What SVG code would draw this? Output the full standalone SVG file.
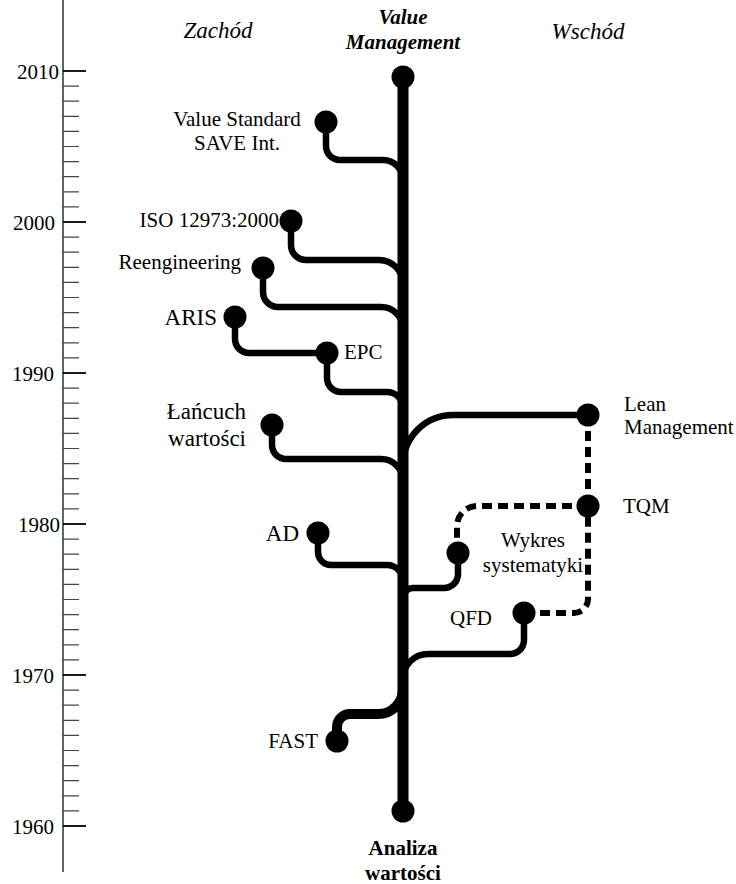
<svg xmlns="http://www.w3.org/2000/svg" width="736" height="884" viewBox="0 0 736 884">
<style>
text{font-family:"Liberation Serif","Times New Roman",serif;fill:#000;font-size:21px}
.yr{font-size:21px}
.big{font-size:23px}
.hdr{font-size:23px;font-style:italic}
.bi{font-weight:bold;font-style:italic;font-size:21px}
.b{font-weight:bold;font-size:21px}
.mid{text-anchor:middle}
.end{text-anchor:end}
.br{fill:none;stroke:#000;stroke-width:6.5;stroke-linecap:round}
.thick{fill:none;stroke:#000;stroke-width:10}
.dash{fill:none;stroke:#000;stroke-width:6;stroke-dasharray:10 6}
.minor{stroke:#444;stroke-width:1.2}
.major{stroke:#000;stroke-width:1.8}
</style>
<g id="axis">
<line x1="63" y1="0" x2="63" y2="872" stroke="#1f3a2c" stroke-width="1.5"/>
<g id="ticks">
<line class="major" x1="63" y1="71" x2="86" y2="71"/>
<line class="major" x1="63" y1="222" x2="86" y2="222"/>
<line class="major" x1="63" y1="373" x2="86" y2="373"/>
<line class="major" x1="63" y1="524" x2="86" y2="524"/>
<line class="major" x1="63" y1="675" x2="86" y2="675"/>
<line class="major" x1="63" y1="826" x2="86" y2="826"/>
<path class="minor" d="M63 86.1H79M63 101.2H79M63 116.3H79M63 131.4H79M63 146.5H79M63 161.6H79M63 176.7H79M63 191.8H79M63 206.9H79
M63 237.1H79M63 252.2H79M63 267.3H79M63 282.4H79M63 297.5H79M63 312.6H79M63 327.7H79M63 342.8H79M63 357.9H79
M63 388.1H79M63 403.2H79M63 418.3H79M63 433.4H79M63 448.5H79M63 463.6H79M63 478.7H79M63 493.8H79M63 508.9H79
M63 539.1H79M63 554.2H79M63 569.3H79M63 584.4H79M63 599.5H79M63 614.6H79M63 629.7H79M63 644.8H79M63 659.9H79
M63 690.1H79M63 705.2H79M63 720.3H79M63 735.4H79M63 750.5H79M63 765.6H79M63 780.7H79M63 795.8H79M63 810.9H79"/>
</g>
<text class="yr" x="17" y="79">2010</text>
<text class="yr" x="13" y="230">2000</text>
<text class="yr" x="12" y="381">1990</text>
<text class="yr" x="18" y="532">1980</text>
<text class="yr" x="12" y="683">1970</text>
<text class="yr" x="12" y="834">1960</text>
</g>
<g id="headers">
<text class="hdr mid" x="218" y="38">Zachód</text>
<text class="hdr mid" x="588" y="39">Wschód</text>
<text class="bi mid" x="403" y="24">Value</text>
<text class="bi mid" x="403" y="49">Management</text>
</g>
<g id="connectors">
<line x1="403" y1="77" x2="403" y2="811" stroke="#000" stroke-width="11"/>
<path class="br" d="M326 122V146A14 14 0 0 0 340 160H383A20 20 0 0 1 403 180"/>
<path class="br" d="M291 221V245A15 15 0 0 0 306 260H379A24 24 0 0 1 403 284"/>
<path class="br" d="M263 268V292A15 15 0 0 0 278 307H381A22 22 0 0 1 403 329"/>
<path class="br" d="M235 317V339A14 14 0 0 0 249 353H327"/>
<path class="br" d="M327 353V378A14 14 0 0 0 341 392H387A16 16 0 0 1 403 408"/>
<path class="br" d="M272 425V445A14 14 0 0 0 286 459H381A22 22 0 0 1 403 481"/>
<path class="br" d="M318 533V552A13 13 0 0 0 331 565H387A16 16 0 0 1 403 581"/>
<path class="br" d="M588 415H453A50 50 0 0 0 403 465"/>
<path class="br" d="M458 553V574A14 14 0 0 1 444 588H413A10 10 0 0 0 403 598"/>
<path class="br" d="M524 613V640A14 14 0 0 1 510 654H428A25 25 0 0 0 403 679"/>
<path class="thick" d="M337 741V727A13 13 0 0 1 350 714H378A25 25 0 0 0 403 689"/>
<path class="dash" d="M588 415V506"/>
<path class="dash" d="M588 506H477A20 20 0 0 0 457 526V553"/>
<path class="dash" d="M524 613H574A14 14 0 0 0 588 599V506"/>
</g>
<g id="n-vm"><circle cx="403" cy="77" r="11.5"/></g>
<g id="n-av"><circle cx="403" cy="811" r="11.5"/><text class="b mid" x="403" y="855">Analiza</text><text class="b mid" x="403" y="880">wartości</text></g>
<g id="n-vs"><circle cx="326" cy="122" r="11.5"/><text class="mid" x="237" y="126">Value Standard</text><text class="mid" x="237" y="150">SAVE Int.</text></g>
<g id="n-iso"><circle cx="291" cy="221" r="11.5"/><text class="end" x="279" y="227">ISO 12973:2000</text></g>
<g id="n-re"><circle cx="263" cy="268" r="11.5"/><text class="end" x="241" y="269">Reengineering</text></g>
<g id="n-aris"><circle cx="235" cy="317" r="11.5"/><text class="big end" x="217" y="325">ARIS</text></g>
<g id="n-epc"><circle cx="327" cy="353" r="11.5"/><text x="344" y="359">EPC</text></g>
<g id="n-lw"><circle cx="272" cy="425" r="11.5"/><text class="big end" x="246" y="419">Łańcuch</text><text class="big end" x="246" y="446">wartości</text></g>
<g id="n-lean"><circle cx="588" cy="415" r="11.5"/><text x="624" y="411">Lean</text><text x="624" y="434">Management</text></g>
<g id="n-tqm"><circle cx="588" cy="506" r="11.5"/><text x="623" y="513">TQM</text></g>
<g id="n-ws"><circle cx="458" cy="553" r="11.5"/><text class="mid" x="533" y="547">Wykres</text><text class="mid" x="533" y="572">systematyki</text></g>
<g id="n-ad"><circle cx="318" cy="533" r="11.5"/><text class="big end" x="299" y="541">AD</text></g>
<g id="n-qfd"><circle cx="524" cy="613" r="11.5"/><text x="450" y="625">QFD</text></g>
<g id="n-fast"><circle cx="337" cy="741" r="11.5"/><text class="end" x="318" y="748">FAST</text></g>
</svg>
